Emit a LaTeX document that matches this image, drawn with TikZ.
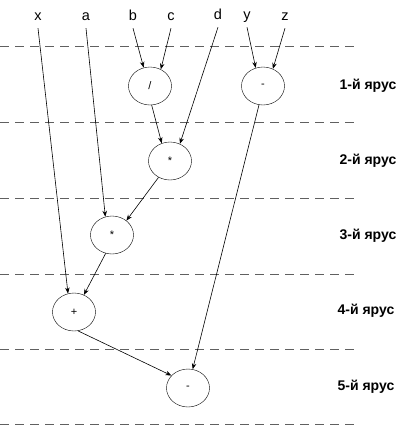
\documentclass[tikz,border=0pt]{standalone}
\usepackage{fontspec}
\setmainfont{Liberation Sans}
\usetikzlibrary{shapes.geometric}
\usetikzlibrary{arrows.meta}

\begin{document}
\begin{tikzpicture}[x=1pt,y=-1pt,
    opnode/.style={draw, ellipse, minimum width=43pt, minimum height=38pt, inner sep=0pt, font=\fontsize{11}{13}\selectfont},
    varnode/.style={anchor=base, inner sep=0pt, text depth=0pt, inner ysep=8pt, font=\fontsize{14.5}{17}\selectfont},
    levelnode/.style={font=\bfseries\fontsize{14}{17}\selectfont},
    levelline/.style={dash pattern=on 9pt off 6pt, gray!75!black, line width=0.8pt},
    edge/.style={-{Stealth[length=6pt,width=4.5pt]}, line width=0.6pt}]
    \useasboundingbox (0,0) rectangle (405,426);
    % levels
    \foreach \ly in {46,122,198,274,349,424}
        \draw[levelline] (0,\ly) -- (357,\ly);
    \node[levelnode] (lev1) at (368,86) {1-й ярус};
    \node[levelnode] (lev2) at (368,161) {2-й ярус};
    \node[levelnode] (lev3) at (368,236) {3-й ярус};
    \node[levelnode] (lev4) at (366,311) {4-й ярус};
    \node[levelnode] (lev5) at (366,387) {5-й ярус};
    % variables
    \node[varnode] (x) at (38,20) {x};
    \node[varnode] (a) at (86,20) {a};
    \node[varnode] (b) at (133,20) {b};
    \node[varnode] (c) at (171,20) {c};
    \node[varnode] (d) at (218,19) {d};
    \node[varnode] (y) at (247,19) {y};
    \node[varnode] (z) at (285,20) {z};
    % operations
    \node[opnode] (div) at (150,86) {/};
    \node[opnode] (sub1) at (263,86) {-};
    \node[opnode] (mul2) at (170,161) {*};
    \node[opnode] (mul3) at (112,235) {*};
    \node[opnode] (plus) at (74,312) {+};
    \node[opnode] (sub2) at (188,388) {-};
    % edges
    \draw[edge] (x.south) -- (plus.108);
    \draw[edge] (a.south) -- (mul3.110);
    \draw[edge] (b.south) -- (div.109);
    \draw[edge] (c.south) -- (div.57);
    \draw[edge] (d.south) -- (mul2.60);
    \draw[edge] (y.south) -- (sub1.112);
    \draw[edge] (z.south) -- (sub1.60);
    \draw[edge] (div.275) -- (mul2.115);
    \draw[edge] (mul2.235) -- (mul3.45);
    \draw[edge] (sub1.258) -- (sub2.76);
    \draw[edge] (mul3.251) -- (plus.60);
    \draw[edge] (plus.282) -- (sub2.143);
\end{tikzpicture}
\end{document}
